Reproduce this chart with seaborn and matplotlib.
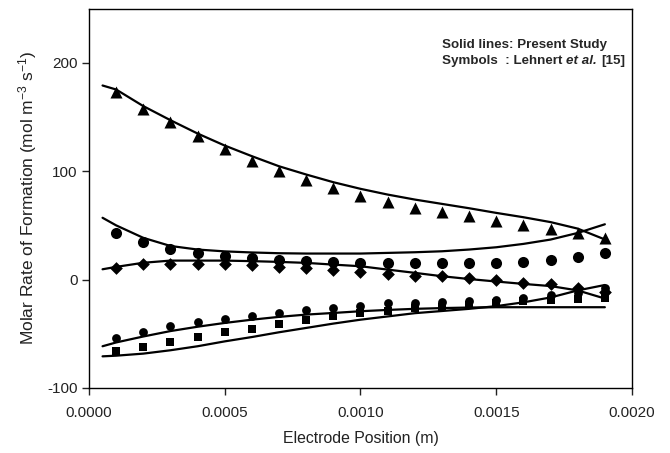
import numpy as np
import pandas as pd
import matplotlib
matplotlib.use("Agg")
import matplotlib.pyplot as plt
import seaborn as sns

# ---- data ----
x_pts = [0.0001, 0.0002, 0.0003, 0.0004, 0.0005, 0.0006, 0.0007, 0.0008, 0.0009, 0.0010,
         0.0011, 0.0012, 0.0013, 0.0014, 0.0015, 0.0016, 0.0017, 0.0018, 0.0019]
tri_pts = [173, 157.5, 145, 132, 120.5, 109.5, 100.5, 92, 84, 77,
           72, 66, 62, 58.5, 54, 50, 46.5, 43, 38]
circ_up_pts = [43, 35, 28.6, 24.6, 21.5, 20, 18, 17, 16.5, 15.5,
               15.5, 15.5, 15.5, 15.5, 15.5, 16.5, 18.5, 21, 24.5]
dia_pts = [10.5, 14, 14.8, 14.5, 14, 13, 11.7, 10.8, 9.2, 7,
           5, 3.7, 3, 1.5, -0.6, -3, -4.5, -7.5, -11.5]
circ_lo_pts = [-54, -48.6, -42.5, -39.4, -36.3, -33.9, -30.8, -27.7, -26.2, -24,
               -22, -21.5, -21, -20, -19, -17, -14.5, -12.5, -8]
sq_pts = [-65.5, -62, -58, -53, -48.6, -45.2, -40.9, -36.9, -33.9, -31,
          -29, -26.5, -25, -23, -21.5, -20, -18.5, -17.5, -17]

x_line = [0.00005, 0.0001, 0.0002, 0.0003, 0.0004, 0.0005, 0.0006, 0.0007, 0.0008, 0.0009,
          0.0010, 0.0011, 0.0012, 0.0013, 0.0014, 0.0015, 0.0016, 0.0017, 0.0018, 0.0019]
tri_line = [179, 175.3, 160, 147, 134.7, 123.6, 113.8, 104.5, 96.9, 89.8,
            83.7, 78.4, 73.8, 69.8, 65.8, 61.5, 57.5, 53, 47, 37]
circ_up_line = [57, 50, 38.5, 31, 27.7, 26, 25, 24.3, 24, 24,
                24, 24.6, 25.2, 26.1, 27.7, 29.8, 32.9, 36.9, 43, 51]
dia_line = [9.5, 11.7, 15.5, 17.5, 17.5, 17.5, 17, 16.3, 15.4, 13.8,
            12.3, 9.2, 6.2, 3.1, 0.5, -1.8, -4, -6, -10, -17.5]
circ_lo_line = [-61.5, -58, -52.5, -47.5, -43.5, -40, -37, -34.4, -32.3, -30.8,
                -29.2, -28, -27, -26.3, -25.8, -25.5, -25.5, -25.5, -25.5, -25.5]
sq_line = [-70.8, -70.2, -68.3, -65.2, -61.5, -57, -53, -48.6, -44.6, -40.6,
           -37, -34, -31, -29, -27, -24.5, -21, -16.5, -10, -5]

x_ticks = [0.0000, 0.0005, 0.0010, 0.0015, 0.0020]
x_ticklabels = ["0.0000", "0.0005", "0.0010", "0.0015", "0.0020"]
y_ticks = [-100, 0, 100, 200]

sns.set_style("ticks")
plt.rcParams["font.family"] = ["Liberation Sans", "DejaVu Sans"]
plt.rcParams["axes.unicode_minus"] = False
plt.rcParams["mathtext.fontset"] = "custom"
plt.rcParams["mathtext.rm"] = "Liberation Sans"
plt.rcParams["mathtext.it"] = "Liberation Sans:italic"

fig = plt.figure(figsize=(6.7, 4.53), dpi=100)
ax = fig.add_axes([0.1328, 0.1435, 0.8105, 0.8377])

lines = [tri_line, circ_up_line, dia_line, circ_lo_line, sq_line]
for yl in lines:
    sns.lineplot(x=x_line, y=yl, ax=ax, color="black", linewidth=1.6, sort=False, legend=False)

markers = [(tri_pts, "^", 75), (circ_up_pts, "o", 64), (dia_pts, "D", 42),
           (circ_lo_pts, "o", 40), (sq_pts, "s", 34)]
for yp, m, s in markers:
    sns.scatterplot(x=x_pts, y=yp, ax=ax, marker=m, s=s, color="black",
                    edgecolor="black", linewidth=0, legend=False, zorder=3)

ax.set_xlim(0, 0.002)
ax.set_ylim(-100, 250)
ax.set_xticks(x_ticks)
ax.set_xticklabels(x_ticklabels)
ax.set_yticks(y_ticks)
for sp in ax.spines.values():
    sp.set_linewidth(1.0)
    sp.set_color("black")
ax.tick_params(axis="both", direction="out", length=5, width=1, labelsize=11,
               colors="#222222", pad=3)
ax.tick_params(axis="x", pad=8)

ax.set_xlabel("Electrode Position (m)", fontsize=11.4, labelpad=8, color="#222222")
ax.set_ylabel("Molar Rate of Formation (mol m$^{-3}$ s$^{-1}$)", fontsize=12.5, labelpad=6,
              color="#222222")

fs = 9.6
t1 = ax.text(0.0013, 211, "Solid lines: Present Study", fontsize=fs, fontweight="bold",
             ha="left", va="bottom")
t2 = ax.text(0.0013, 196, "Symbols  : Lehnert", fontsize=fs, fontweight="bold",
             ha="left", va="bottom")
t3 = ax.annotate("et al.", xy=(1, 0), xycoords=t2, xytext=(3, 0), textcoords="offset points",
                 fontsize=fs, fontweight="bold", style="italic", ha="left", va="bottom")
ax.annotate("[15]", xy=(1, 0), xycoords=t3, xytext=(3, 0), textcoords="offset points",
            fontsize=fs, fontweight="bold", ha="left", va="bottom")

fig.savefig("out.png", dpi=100)
